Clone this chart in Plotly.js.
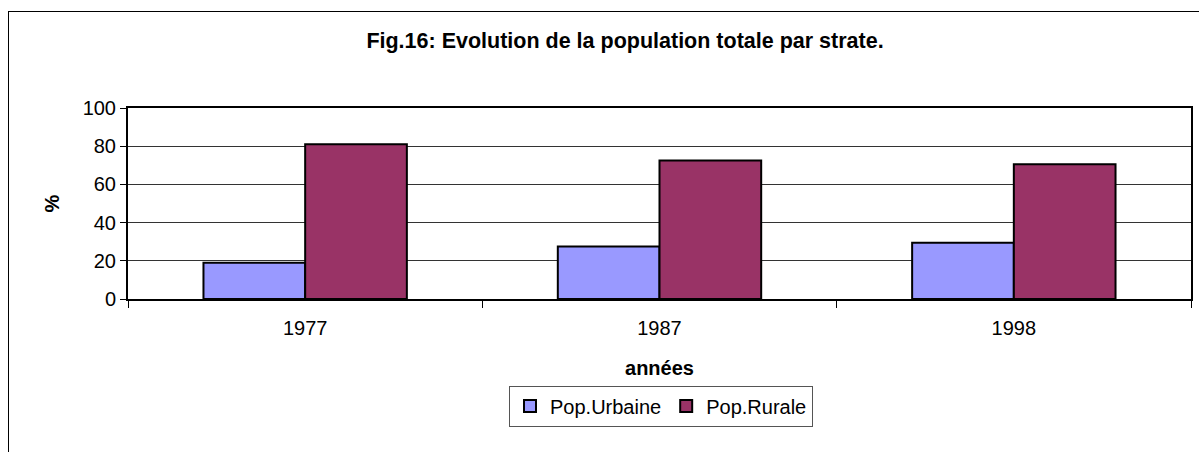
<!DOCTYPE html>
<html>
<head>
<meta charset="utf-8">
<script src="https://cdn.plot.ly/plotly-3.0.1.min.js"></script>
<style>
html,body{margin:0;padding:0;background:#fff;overflow:hidden;}
#frame{position:absolute;left:8px;top:11px;width:1200px;height:460px;border:1px solid #000;box-sizing:border-box;}
#chart{position:absolute;left:0;top:0;width:1199px;height:452px;}
</style>
</head>
<body>
<div id="frame"></div>
<div id="chart"></div>
<script>
const years = ['1977', '1987', '1998'];
const urbaine = [19, 27.5, 29.5];
const rurale = [81, 72.5, 70.5];
const yTicks = [0, 20, 40, 60, 80, 100];

const font = 'Liberation Sans, Arial, sans-serif';
const FS = 20;

const traces = [
  {type: 'bar', name: 'Pop.Urbaine', x: years, y: urbaine,
   marker: {color: '#9999FF', line: {color: '#000', width: 2}}, hoverinfo: 'y'},
  {type: 'bar', name: 'Pop.Rurale', x: years, y: rurale,
   marker: {color: '#993366', line: {color: '#000', width: 2}}, hoverinfo: 'y'}
];

const layout = {
  width: 1199, height: 452,
  paper_bgcolor: 'rgba(0,0,0,0)', plot_bgcolor: '#fff',
  margin: {l: 128, r: 8, t: 108, b: 153},
  font: {family: font, size: FS, color: '#000'},
  barmode: 'group', bargap: 0.426, bargroupgap: 0,
  showlegend: true,
  title: {text: '<b>Fig.16: Evolution de la population totale par strate.</b>',
          font: {family: font, size: 21.5, color: '#000'},
          x: 625/1199, xref: 'container', xanchor: 'center', y: 1 - 40/452, yanchor: 'middle', yref: 'container'},
  xaxis: {
    type: 'category', tickson: 'boundaries', ticks: 'outside', ticklen: 7, tickcolor: '#000', tickwidth: 1,
    ticklabelstandoff: 10,
    showgrid: false, showline: true, linecolor: '#000', linewidth: 2, mirror: true,
    tickfont: {family: font, size: FS, color: '#000'},
    title: {text: '<b>années</b>', font: {family: font, size: FS, color: '#000'}, standoff: 23}
  },
  yaxis: {
    range: [0, 100], tickvals: yTicks, ticktext: yTicks.map(String),
    ticks: 'outside', ticklen: 6, tickcolor: '#000', tickwidth: 1,
    showgrid: true, gridcolor: '#333', gridwidth: 1,
    showline: true, linecolor: '#000', linewidth: 2, mirror: true, zeroline: false,
    tickfont: {family: font, size: FS, color: '#000'},
    title: {text: '<b>%</b>', font: {family: font, size: FS, color: '#000'}, standoff: 18}
  },
  legend: {
    orientation: 'h', x: 661/1199, xref: 'container', xanchor: 'center',
    y: 1 - 406/452, yref: 'container', yanchor: 'middle',
    bordercolor: '#555', borderwidth: 1, bgcolor: '#fff',
    font: {family: font, size: FS, color: '#000'},
    itemwidth: 30, tracegroupgap: 0
  }
};

Plotly.newPlot('chart', traces, layout, {displayModeBar: false, staticPlot: true});
</script>
</body>
</html>
